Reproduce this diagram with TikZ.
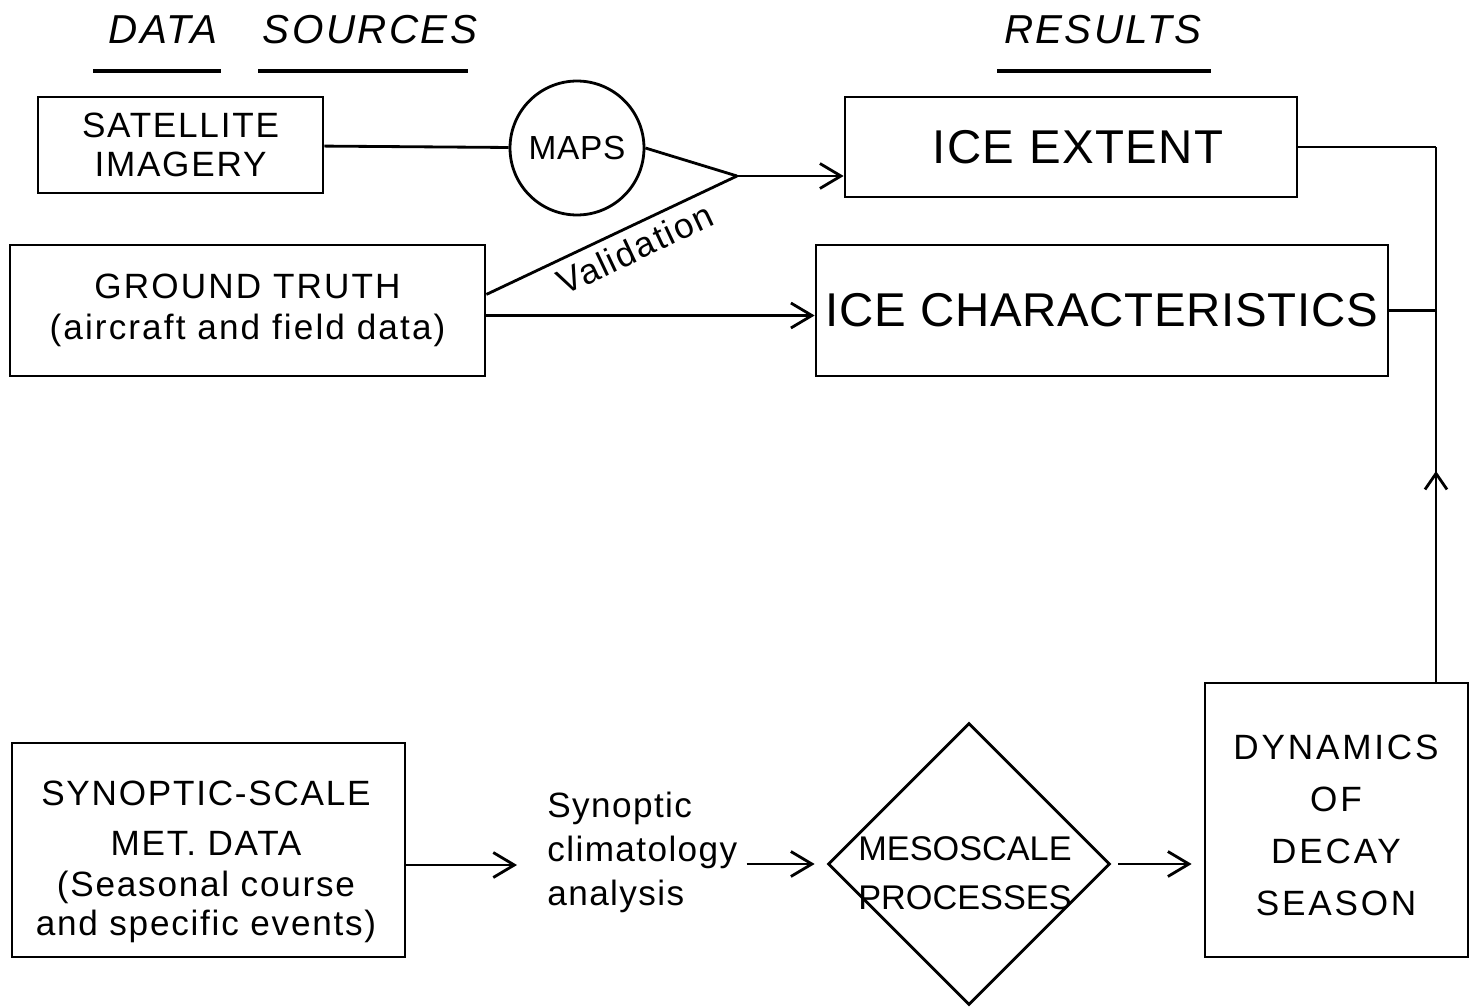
\documentclass[tikz,border=0pt]{standalone}
\usepackage{fontspec}
\setmainfont{Liberation Sans}
\usetikzlibrary{arrows.meta,shapes.geometric,calc,decorations.markings}
\begin{document}
\begin{tikzpicture}[x=0.02cm,y=-0.02cm,
  line width=1.6pt,
  box/.style={draw, rectangle, inner sep=0pt, align=center},
  big/.style={font=\fontsize{27}{32}\selectfont\addfontfeature{LetterSpace=3}},
  head/.style={font=\fontsize{23}{28}\itshape\selectfont\addfontfeature{LetterSpace=6}, inner sep=0pt},
  uline/.style={line width=2.1pt},
  arr/.style={-{Straight Barb[length=0.42cm,width=0.5cm,line width=1.6pt]}},
  midup/.style={postaction={decorate},
    decoration={markings, mark=at position 0.394 with {\arrow{Straight Barb[length=0.32cm,width=0.44cm,line width=1.6pt]}}}},
]
\useasboundingbox (0,0) rectangle (1470,1007);

% headings
\node[head] (hdata) at (163,30) {DATA};
\node[head] (hsrc) at (370,30) {SOURCES};
\node[head] (hres) at (1103,30) {RESULTS};
\draw[uline] (93,71) -- (221,71);
\draw[uline] (258,71) -- (468,71);
\draw[uline] (997,71) -- (1211,71);

% nodes
\node[box, minimum width=5.70cm, minimum height=1.92cm,
  font=\fontsize{20}{22}\selectfont\addfontfeature{LetterSpace=5}] (sat) at (180.5,145) {SATELLITE\\IMAGERY};
\node[circle, draw, minimum size=2.68cm, inner sep=0pt,
  font=\fontsize{19}{22}\selectfont\addfontfeature{LetterSpace=2}] (maps) at (577,148) {MAPS};
\node[box, minimum width=9.5cm, minimum height=2.62cm,
  font=\fontsize{20}{23}\selectfont\addfontfeature{LetterSpace=6}] (gt) at (247.5,310.5) {GROUND TRUTH\\(aircraft and field data)};
\node[box, minimum width=9.04cm, minimum height=2cm] (ext) at (1071,147) {};
\node[big, inner sep=0pt] (extt) at (1078,147) {ICE EXTENT};
\node[box, font=\fontsize{27}{32}\selectfont\addfontfeature{LetterSpace=1.5},
  minimum width=11.44cm, minimum height=2.62cm] (char) at (1102,310.5) {ICE CHARACTERISTICS};
\node[box, minimum width=7.86cm, minimum height=4.28cm] (syn) at (208.5,850) {};
\node[align=center, inner sep=0pt,
  font=\fontsize{20}{22}\selectfont\addfontfeature{LetterSpace=5}] (synt) at (206,862)
  {SYNOPTIC-SCALE\\[6.5pt]MET. DATA\\[1.3pt](Seasonal course\\and specific events)};
\node[anchor=west, align=left, inner sep=0pt,
  font=\fontsize{20}{25}\selectfont\addfontfeature{LetterSpace=4}] (anal) at (546,852) {Synoptic\\climatology\\analysis};
\node[diamond, draw, minimum width=5.64cm, minimum height=5.64cm, inner sep=0pt] (meso) at (969,864) {};
\node[align=center, inner sep=0pt,
  font=\fontsize{19.5}{28}\selectfont] (mesot) at (965,873) {MESOSCALE\\PROCESSES};
\node[box, minimum width=5.26cm, minimum height=5.48cm] (dyn) at (1336.5,820) {};
\node[align=center, inner sep=0pt,
  font=\fontsize{20}{29.6}\selectfont\addfontfeature{LetterSpace=8}] (dynt) at (1336,825) {DYNAMICS\\OF\\DECAY\\SEASON};

\coordinate (apex) at (737,176);
\coordinate (top) at (1436,147);
\coordinate (gtup) at ($(gt.north east)!0.38!(gt.south east)$);
\coordinate (gtout) at ($(gt.east)+(0,5)$);
\coordinate (synout) at ($(syn.east)+(0,15)$);

% connectors
\draw (sat) -- (maps);
\draw (maps.east) -- (apex);
\draw[arr] (apex) -- (apex -| ext.west);
\draw (gtup) -- (apex) node[pos=0.555, sloped, below, inner sep=4.5pt,
  font=\fontsize{20}{22}\selectfont\addfontfeature{LetterSpace=5}] (val) {Validation};
\draw[arr] (gtout) -- (gtout -| char.west);
\draw (ext.east) -- (ext.east -| top);
\draw (char.east) -- (char.east -| top);
\draw[midup] (top |- dyn.north) -- (top);
\draw[arr, shorten >=0.58cm] (synout) -- (synout -| anal.west);
\draw[arr, shorten <=0.16cm, shorten >=0.24cm] (anal.east |- meso.west) -- (meso.west);
\draw[arr, shorten <=0.14cm, shorten >=0.24cm] (meso.east) -- (meso.east -| dyn.west);
\end{tikzpicture}
\end{document}
